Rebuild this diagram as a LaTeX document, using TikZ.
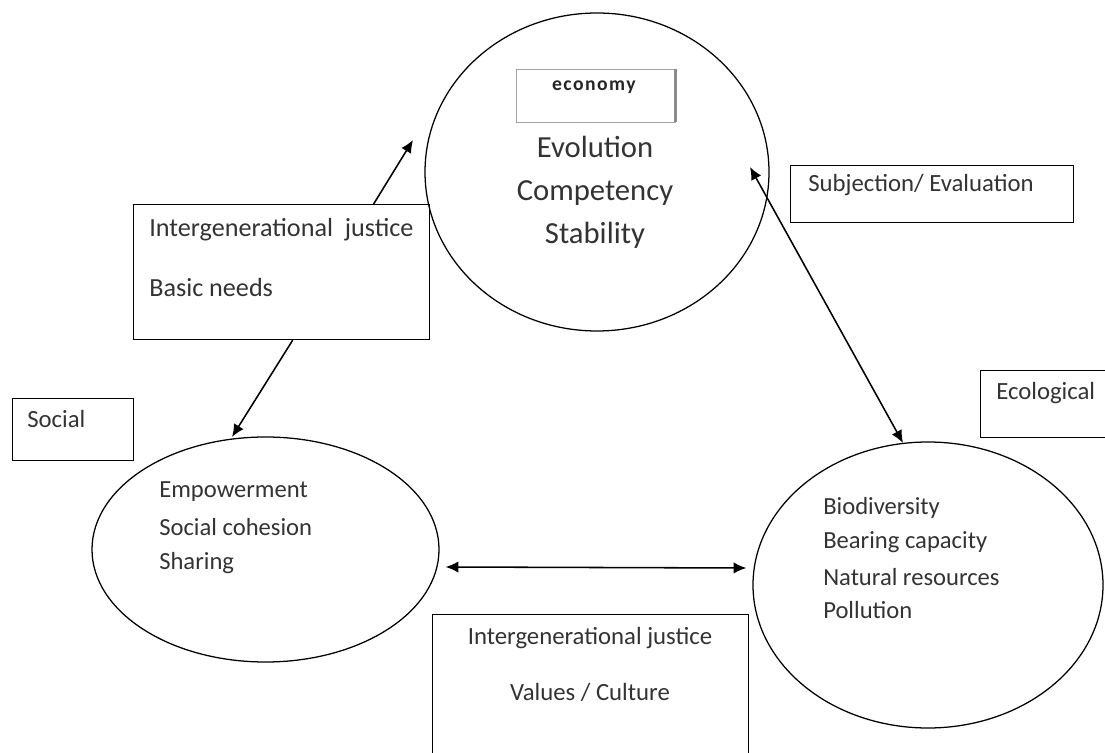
\documentclass[tikz,border=0pt]{standalone}
\usepackage{fontspec}
\setmainfont{Carlito}
\usetikzlibrary{shapes.geometric,arrows.meta,positioning,calc}

\newcommand{\pxu}{0.025cm}
\tikzset{
  pillar/.style={draw, line width=0.9pt, ellipse, inner sep=0pt},
  infobox/.style={draw, line width=0.9pt, rectangle, anchor=north west, inner sep=0pt},
  txt/.style={anchor=west, inner sep=0pt, text=black!80, font=\fontsize{17.6}{20}\selectfont},
  intxt/.style={txt, font=\fontsize{17.5}{20}\selectfont},
  arr/.style={line width=1.1pt, -{Latex[length=9pt,width=8pt]}},
  dblarr/.style={line width=1.1pt, {Latex[length=9pt,width=8pt]}-{Latex[length=9pt,width=8pt]}},
}

\begin{document}
\begin{tikzpicture}[x=0.025cm, y=-0.025cm]
\useasboundingbox (0,0) rectangle (1105,753);
\clip (0,0) rectangle (1105,753);

% three pillars
\node[pillar, minimum width={344*\pxu}, minimum height={318*\pxu}] (econ) at (597,172) {};
\node[pillar, minimum width={347*\pxu}, minimum height={225*\pxu}] (social) at (265.5,549.5) {};
\node[pillar, minimum width={350*\pxu}, minimum height={286*\pxu}] (eco) at (928,585) {};

% economy label
\node[draw=black!35, line width=0.6pt, minimum width={159*\pxu}, minimum height={53*\pxu}, inner sep=0pt] (econbox) at (595.5,95.5) {};
\draw[black!45, line width=1.6pt] (econbox.north east) -- (econbox.south east);
\node[inner sep=0pt, text=black!85, font=\fontsize{14}{15}\bfseries] (econlbl) at (594,87) {e\kern1pt c\kern1pt o\kern1pt n\kern1pt o\kern1pt m\kern1pt y};
\node[inner sep=0pt, align=center, text=black!80, font=\fontsize{21.8}{30.5}\selectfont] (evo) at (595,192) {Evolution\\Competency\\Stability};

% boxes
\node[infobox, minimum width={296*\pxu}, minimum height={135*\pxu}] (needs) at (133,204) {};
\node[txt, font=\fontsize{18.6}{20}\selectfont] (needs1) at (149,230) {Intergenerational\ \ justice};
\node[txt, font=\fontsize{18.6}{20}\selectfont] (needs2) at (149,288) {Basic needs};

\node[infobox, minimum width={121*\pxu}, minimum height={62*\pxu}] (socbox) at (12,398) {};
\node[txt] (soclbl) at (27,419) {Social};

\node[infobox, minimum width={283*\pxu}, minimum height={57*\pxu}] (subj) at (790,165) {};
\node[txt] (subjlbl) at (808,185) {Subjection/ Evaluation};

\node[infobox, minimum width={140*\pxu}, minimum height={67*\pxu}] (ecobox) at (980,370) {};
\node[txt] (ecolbl) at (996,393) {Ecological};

\node[infobox, minimum width={316*\pxu}, minimum height={170*\pxu}] (values) at (432,614) {};
\node[txt, anchor=center] (values1) at (590,638) {Intergenerational justice};
\node[txt, anchor=center] (values2) at (590,692) {Values / Culture};

% texts in the ellipses
\node[intxt] (soc1) at (159,492) {Empowerment};
\node[intxt] (soc2) at (159,527) {Social cohesion};
\node[intxt] (soc3) at (159,563) {Sharing};

\node[intxt] (eco1) at (823,508) {Biodiversity};
\node[intxt] (eco2) at (823,542) {Bearing capacity};
\node[intxt] (eco3) at (823,577) {Natural resources};
\node[intxt] (eco4) at (823,610) {Pollution};

% arrows
\coordinate (tipecon) at (413,140);
\coordinate (tipsoc) at (232,437);
\coordinate (ecotop) at (750,167);
\coordinate (ecobot) at (903,443);
\draw[arr] ($(needs.north)+(92,0)$) -- (tipecon);
\draw[arr] ($(needs.south)+(11,0)$) -- (tipsoc);
\draw[dblarr] (ecotop) -- (ecobot);
\draw[dblarr] ($(social.east)+(6,17.5)$) -- ($(eco.west)+(-6,-17)$);
\end{tikzpicture}
\end{document}
